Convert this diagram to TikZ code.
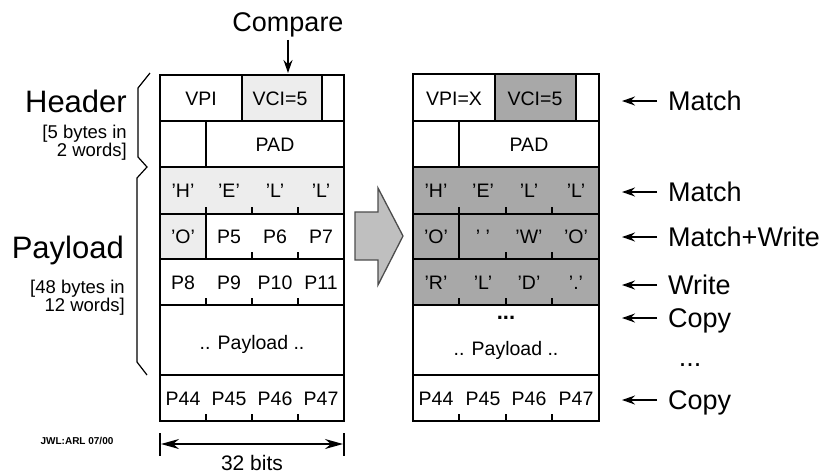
\documentclass[tikz,border=0pt]{standalone}
\usepackage{fontspec}
\setmainfont{Liberation Sans}
\usetikzlibrary{arrows.meta}

\tikzset{
  cell/.style={line width=1.5pt},
  frame/.style={line width=2pt},
  byte/.style={font=\fontsize{19.5}{20}\selectfont, inner sep=0pt, text height=14pt, text depth=0pt},
  side/.style={font=\fontsize{27}{28}\selectfont, inner sep=0pt, anchor=west, text height=19.3pt, text depth=0pt},
  part/.style={font=\fontsize{31}{32}\selectfont, inner sep=0pt, anchor=east, text height=22.2pt, text depth=0pt},
  note/.style={font=\fontsize{18.5}{17.5}\selectfont, inner sep=0pt, align=right, anchor=base east},
  tip/.style={-{Stealth[length=13pt,width=9pt]}, line width=1.6pt},
}

\begin{document}
\begin{tikzpicture}[x=1pt, y=-1pt]
    \useasboundingbox (0,0) rectangle (826,474);

    % left cell: shading
    \fill[black!7] (242,75) rectangle (322,121);
    \fill[black!7] (160,167) rectangle (344,214);
    \fill[black!7] (160,214) rectangle (206,259);

    % left cell: words
    \draw[frame] (160,75) rectangle (344,421);
    \foreach \y in {121,167,214,259,305,375}
        \draw[cell] (160,\y) -- (344,\y);
    \draw[cell] (242,75) -- (242,121);
    \draw[cell] (322,75) -- (322,121);
    \draw[cell] (206,121) -- (206,167);
    \draw[cell] (206,214) -- (206,259);
    \foreach \y in {214,305,421}
        \foreach \x in {206,252,298}
            \draw[cell] (\x,\y) -- (\x,\y-7);
    \foreach \x in {252,298}
        \draw[cell] (\x,259) -- (\x,252);

    \node[byte] (lvpi) at (201,98) {VPI};
    \node[byte] (lvci) at (280,98) {VCI=5};
    \node[byte] (lpad) at (275,144) {PAD};
    \node[byte] (lh) at (183,190) {'H'};
    \node[byte] (le) at (229,190) {'E'};
    \node[byte] (ll1) at (275,190) {'L'};
    \node[byte] (ll2) at (321,190) {'L'};
    \node[byte] (lo) at (183,236) {'O'};
    \node[byte] (lp5) at (229,236) {P5};
    \node[byte] (lp6) at (275,236) {P6};
    \node[byte] (lp7) at (321,236) {P7};
    \node[byte] (lp8) at (183,282) {P8};
    \node[byte] (lp9) at (229,282) {P9};
    \node[byte] (lp10) at (275,282) {P10};
    \node[byte] (lp11) at (321,282) {P11};
    \node[byte] (lpay) at (252,342) {.. Payload ..};
    \node[byte] (lp44) at (183,398) {P44};
    \node[byte] (lp45) at (229,398) {P45};
    \node[byte] (lp46) at (275,398) {P46};
    \node[byte] (lp47) at (321,398) {P47};

    % compare arrow
    \node[font=\fontsize{27}{28}\selectfont, inner sep=0pt, text height=19.3pt, text depth=0pt] (compare) at (288,22) {Compare};
    \coordinate (vcitop) at (288,73);
    \draw[tip] ([yshift=-8pt]compare.south) -- (vcitop);

    % braces and labels
    \draw[line width=1.2pt] (150,73) -- (138,88) -- (138,157) -- (147,167) -- (137,178) -- (137,362) -- (147,375);
    \node[part] (header) at (127,101) {Header};
    \node[note] (hdrnote) at (127,156) {[5 bytes in\\2 words]};
    \node[part] (payload) at (124,247) {Payload};
    \node[note] (paynote) at (125,311) {[48 bytes in\\12 words]};
    \node[font=\bfseries\fontsize{10}{10}\selectfont, inner sep=0pt] (stamp) at (77,441) {JWL:ARL 07/00};

    % width
    \draw[cell] (160,433) -- (160,456);
    \draw[cell] (344,433) -- (344,456);
    \coordinate (bitsl) at (161,444);
    \coordinate (bitsr) at (343,444);
    \draw[{Stealth[length=18pt,width=10pt]}-{Stealth[length=18pt,width=10pt]}, line width=1.6pt] (bitsl) -- (bitsr);
    \node[font=\fontsize{21}{22}\selectfont, inner sep=0pt, text height=15pt, text depth=0pt] (bits) at (252,463) {32 bits};

    % flow arrow
    \filldraw[fill=black!25, draw=black!70, line width=1.3pt]
        (355,212) -- (378,212) -- (378,188) -- (403,236) -- (378,285) -- (378,260) -- (355,260) -- cycle;

    % right cell: shading
    \fill[black!34] (495,74) rectangle (576,121);
    \fill[black!34] (413,167) rectangle (599,305);

    % right cell: words
    \draw[frame] (413,74) rectangle (599,421);
    \foreach \y in {121,167,214,259,305,375}
        \draw[cell] (413,\y) -- (599,\y);
    \draw[cell] (495,74) -- (495,121);
    \draw[cell] (576,74) -- (576,121);
    \draw[cell] (459,121) -- (459,167);
    \draw[cell] (459,214) -- (459,259);
    \foreach \y in {214,305,421}
        \foreach \x in {459,506,552}
            \draw[cell] (\x,\y) -- (\x,\y-7);
    \foreach \x in {506,552}
        \draw[cell] (\x,259) -- (\x,252);

    \node[byte] (rvpi) at (454,98) {VPI=X};
    \node[byte] (rvci) at (535,98) {VCI=5};
    \node[byte] (rpad) at (529,144) {PAD};
    \node[byte] (rh) at (436,190) {'H'};
    \node[byte] (re) at (483,190) {'E'};
    \node[byte] (rl1) at (529,190) {'L'};
    \node[byte] (rl2) at (576,190) {'L'};
    \node[byte] (ro1) at (436,236) {'O'};
    \node[byte] (rsp) at (483,236) {' '};
    \node[byte] (rw) at (529,236) {'W'};
    \node[byte] (ro2) at (576,236) {'O'};
    \node[byte] (rr) at (436,282) {'R'};
    \node[byte] (rl3) at (483,282) {'L'};
    \node[byte] (rd) at (529,282) {'D'};
    \node[byte] (rdot) at (576,282) {'.'};
    \node[byte, font=\bfseries\fontsize{22}{22}\selectfont, text height=3pt] (rmore) at (506,318) {...};
    \node[byte] (rpay) at (506,348) {.. Payload ..};
    \node[byte] (rp44) at (436,398) {P44};
    \node[byte] (rp45) at (483,398) {P45};
    \node[byte] (rp46) at (529,398) {P46};
    \node[byte] (rp47) at (576,398) {P47};

    % actions
    \foreach \y/\name/\txt in {101/act1/Match, 192/act2/Match, 237/act3/Match+Write,
                               285/act4/Write, 318/act5/Copy, 400/act6/Copy} {
        \node[side] (\name) at (668,\y) {\txt};
        \coordinate (\name tip) at (622,\y);
        \draw[tip] ([xshift=-11pt]\name.west) -- (\name tip);
    }
    \node[side, anchor=center, text height=3pt] (actdots) at (690,365) {...};
\end{tikzpicture}
\end{document}
